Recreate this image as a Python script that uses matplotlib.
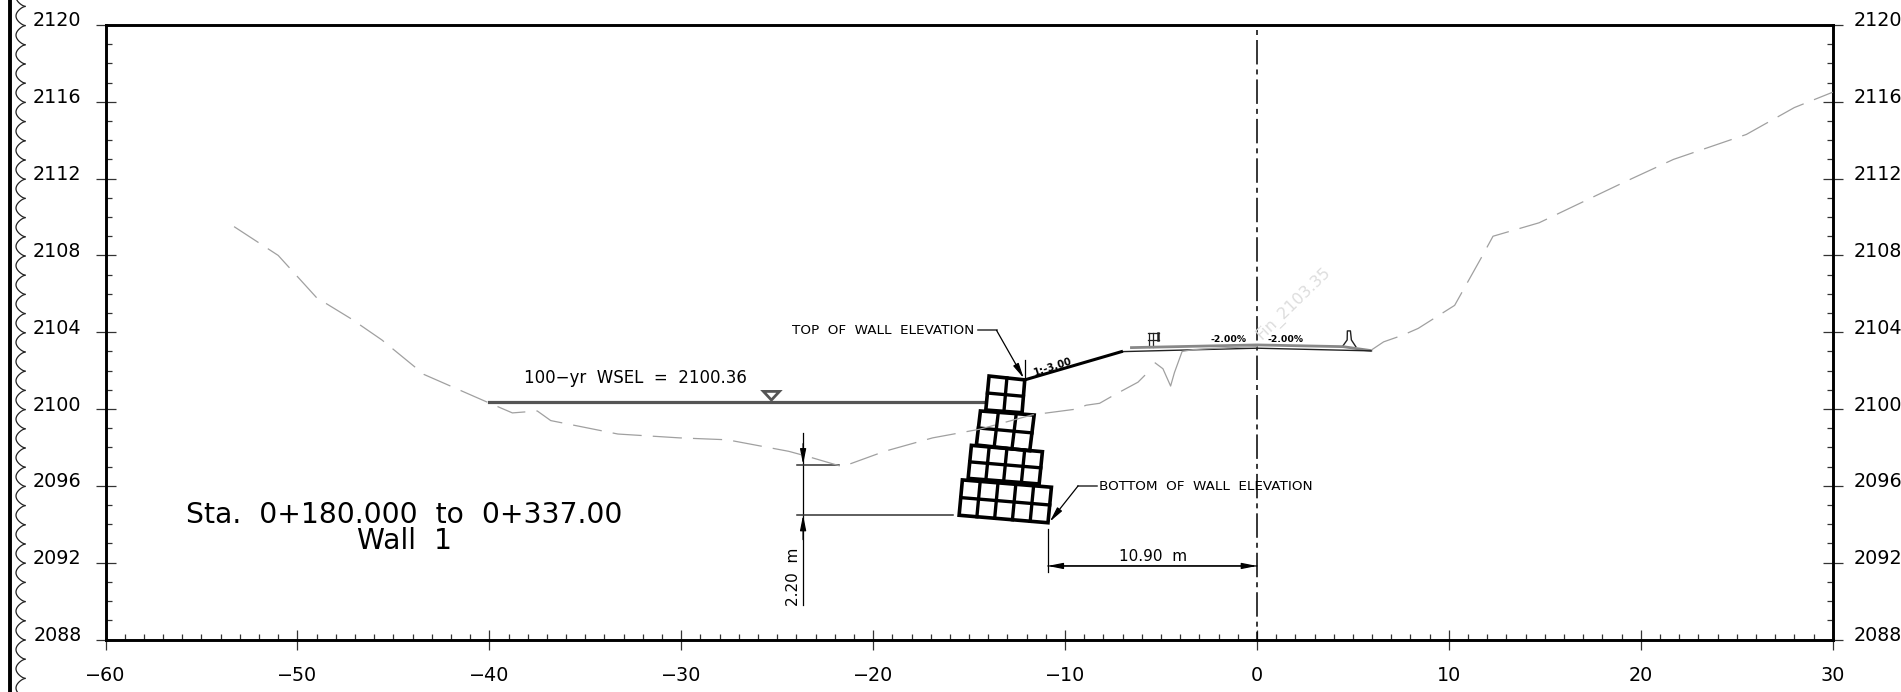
import numpy as np
import matplotlib
matplotlib.use("Agg")
import matplotlib.pyplot as plt
from matplotlib.ticker import MultipleLocator
from matplotlib.transforms import ScaledTranslation

plt.rcParams['font.family'] = ['DejaVu Sans']
plt.rcParams['lines.scale_dashes'] = False

# --------------------------
# Values read off the section
# --------------------------
terrain_x = [-53.3, -51, -49, -47.2, -45.6, -43.4, -40.2, -38.8, -37.5, -36.8, -33.3, -30.1, -27.6, -24.4,
             -23.3, -21.6, -19.4, -16.9, -14.45, -11.7, -9.4, -8.9, -8.2, -7.5, -6.2, -5.7]
terrain_y = [2109.5, 2108.0, 2105.8, 2104.7, 2103.6, 2101.8, 2100.4, 2099.8, 2099.9, 2099.4, 2098.7, 2098.5,
             2098.4, 2097.8, 2097.5, 2097.0, 2097.8, 2098.5, 2098.95, 2099.7, 2100.0, 2100.2, 2100.3, 2100.7,
             2101.4, 2101.9]
ditch_x = [-5.3, -4.9, -4.5, -4.3, -3.9, -3.3, -1.5, 0]
ditch_y = [2102.4, 2102.1, 2101.2, 2101.9, 2103.0, 2103.1, 2103.2, 2103.25]
terrain_right_x = [5.97, 6.6, 7.6, 8.4, 10.3, 11.7, 12.3, 14.7, 19.1, 21.7, 25.5, 28, 30]
terrain_right_y = [2103.08, 2103.5, 2103.85, 2104.2, 2105.4, 2107.9, 2109, 2109.7, 2111.8, 2113, 2114.3, 2115.7, 2116.5]

road_x = [-7.06, 0, 5.97]
road_y = [2102.99, 2103.17, 2103.03]
road_top_x = [-6.54, 0, 4.49, 5.9]
road_top_y = [2103.2, 2103.34, 2103.25, 2103.05]
slope_x = [-12.1, -7.06]
slope_y = [2101.52, 2102.99]

barrier_x = [4.45, 4.70, 4.71, 4.87, 4.92, 5.15]
barrier_y = [2103.25, 2103.6, 2104.07, 2104.07, 2103.6, 2103.25]

# wall tiers: corners TL, TR, BR, BL and number of columns
tier_cols = [2, 3, 4, 5]
tier_x = [[-13.96, -12.10, -12.24, -14.13],
          [-14.41, -11.61, -11.84, -14.62],
          [-14.88, -11.18, -11.35, -15.05],
          [-15.35, -10.71, -10.89, -15.52]]
tier_y = [[2101.72, 2101.52, 2099.81, 2099.95],
          [2099.90, 2099.69, 2097.83, 2098.13],
          [2098.11, 2097.78, 2096.10, 2096.39],
          [2096.31, 2095.93, 2094.08, 2094.47]]

wsel = 2100.36
x_ticks = [-60, -50, -40, -30, -20, -10, 0, 10, 20, 30]
y_ticks = [2088, 2092, 2096, 2100, 2104, 2108, 2112, 2116, 2120]

W, H = 1901, 692
fig = plt.figure(figsize=(W / 100, H / 100), dpi=100)
ax = fig.add_axes([105.5 / W, 1 - 639.5 / H, (1832.7 - 105.5) / W, (639.5 - 25) / H])
ax.set_xlim(-60, 30)
ax.set_ylim(2088, 2120)

# --------------------------
# Axes frame and ticks
# --------------------------
for side in ['left', 'right', 'top', 'bottom']:
    ax.spines[side].set_linewidth(2.1)
ax.set_xticks(x_ticks)
ax.set_yticks(y_ticks)
ax.xaxis.set_minor_locator(MultipleLocator(1))
ax.yaxis.set_minor_locator(MultipleLocator(1))
ax.tick_params(axis='both', which='major', direction='inout', length=13.7, width=0.9, color='#333333', labelsize=13.8)
ax.tick_params(axis='both', which='minor', direction='in', length=4, width=0.9, color='#333333')
ax.tick_params(axis='y', which='both', left=True, right=True, labelleft=True, labelright=True)
ax.tick_params(axis='y', which='major', pad=10.5)
ax.tick_params(axis='x', which='major', pad=12)
shift = ScaledTranslation(0, 6 / 100, fig.dpi_scale_trans)
left_shift = ScaledTranslation(0, 6 / 100, fig.dpi_scale_trans)
right_shift = ScaledTranslation(-3.5 / 100, 6 / 100, fig.dpi_scale_trans)
for tick in ax.yaxis.get_major_ticks():
    tick.label1.set_transform(tick.label1.get_transform() + left_shift)
    tick.label2.set_transform(tick.label2.get_transform() + right_shift)
ax.set_yticklabels([str(v) for v in y_ticks])

# --------------------------
# Ground and road
# --------------------------
ground = dict(color='#a0a0a0', lw=0.9, zorder=5)
ax.plot(terrain_x, terrain_y, dashes=(21, 8), **ground)
ax.plot(ditch_x, ditch_y, **ground)
ax.plot(terrain_right_x, terrain_right_y, dashes=(21, 8), **ground)
ax.plot(road_top_x, road_top_y, color='#888888', lw=2.0, zorder=3)
ax.plot(road_x, road_y, color='#222222', lw=1.0, zorder=4)
ax.plot(slope_x, slope_y, color='black', lw=2.2, zorder=4)
ax.plot(barrier_x, barrier_y, color='#222222', lw=1.0)

# guard rail
ax.plot([-5.64, -5.64], [2103.25, 2103.95], color='#222222', lw=0.9)
ax.plot([-5.41, -5.41], [2103.25, 2103.95], color='#222222', lw=0.9)
ax.plot([-5.7, -5.08], [2103.95, 2103.95], color='#222222', lw=0.9)
ax.plot([-5.7, -5.08], [2103.62, 2103.62], color='#222222', lw=0.9)
ax.plot([-5.15, -5.15], [2103.6, 2103.95], color='#222222', lw=1.8)

# --------------------------
# Wall blocks
# --------------------------
for cols, xs, ys in zip(tier_cols, tier_x, tier_y):
    tl, tr, br, bl = np.column_stack([xs, ys])
    ax.fill(xs, ys, fc='none', ec='black', lw=2.6, zorder=4)
    mid_l = (tl + bl) / 2
    mid_r = (tr + br) / 2
    ax.plot([mid_l[0], mid_r[0]], [mid_l[1], mid_r[1]], color='black', lw=2.4, zorder=4)
    for i in range(1, cols):
        top = tl + (tr - tl) * i / cols
        bot = bl + (br - bl) * i / cols
        ax.plot([top[0], bot[0]], [top[1], bot[1]], color='black', lw=2.4, zorder=4)

# --------------------------
# Water level
# --------------------------
ax.plot([-40.03, -14.15], [wsel, wsel], color='#555555', lw=2.3, zorder=3)
ax.fill([-25.72, -24.88, -25.3], [2100.92, 2100.92, 2100.47], fc='white', ec='#555555', lw=2.0, zorder=4)
ax.text(-32.37, 2101.6, "100\u2212yr  WSEL  =  2100.36", fontsize=12, ha='center', va='center')

# --------------------------
# Dimensions and leaders
# --------------------------
dim = dict(color='#333333', lw=1.1)
ax.plot([0, 0], [2120, 2088], color='black', lw=1.1, linestyle=(17.6, (17.6, 3.6, 3.6, 3.6)), zorder=2)
ax.plot([-23.65, -23.65], [2089.8, 2098.74], color='black', lw=0.9)
ax.plot([-23.98, -21.79], [2097.1, 2097.1], **dim)
ax.plot([-23.98, -15.83], [2094.48, 2094.48], **dim)
ax.plot([-10.9, -10.9], [2091.5, 2093.76], color='black', lw=0.9)
arrow = dict(arrowstyle='-|>,head_length=0.9,head_width=0.18', color='black', lw=0.9, shrinkA=0, shrinkB=0)
ax.annotate('', xy=(-23.65, 2097.12), xytext=(-23.65, 2098.2), arrowprops=arrow)
ax.annotate('', xy=(-23.65, 2094.48), xytext=(-23.65, 2093.2), arrowprops=arrow)
ax.annotate('', xy=(-10.9, 2091.83), xytext=(0, 2091.83), arrowprops=arrow)
ax.annotate('', xy=(0, 2091.83), xytext=(-10.9, 2091.83), arrowprops=arrow)
ax.text(-24.14, 2091.26, "2.20  m", fontsize=11, rotation=90, ha='center', va='center')
ax.text(-5.43, 2092.32, "10.90  m", fontsize=11, ha='center', va='center')

ax.plot([-14.53, -13.57], [2104.1, 2104.1], **dim)
ax.annotate('', xy=(-12.15, 2101.6), xytext=(-13.57, 2104.1), arrowprops=arrow)
ax.plot([-12.1, -12.1], [2101.52, 2102.56], color='black', lw=0.9)
ax.text(-19.5, 2104.1, "TOP  OF  WALL  ELEVATION", fontsize=9.7, ha='center', va='center')

ax.plot([-8.36, -9.32], [2096, 2096], **dim)
ax.annotate('', xy=(-10.8, 2094.13), xytext=(-9.32, 2096), arrowprops=arrow)
ax.text(-2.67, 2095.96, "BOTTOM  OF  WALL  ELEVATION", fontsize=9.7, ha='center', va='center')

# small labels
ax.text(-10.66, 2102.2, "1:-3.00", fontsize=7.2, fontweight='bold', rotation=18, ha='center', va='center')
ax.text(-1.5, 2103.6, "-2.00%", fontsize=6.7, fontweight='bold', ha='center', va='center')
ax.text(1.5, 2103.6, "-2.00%", fontsize=6.7, fontweight='bold', ha='center', va='center')
ax.text(1.9, 2105.5, "Fin_2103.35", fontsize=11.5, color='#dddddd', rotation=44, ha='center', va='center')

ax.text(-44.46, 2094.47, "Sta.  0+180.000  to  0+337.00", fontsize=20.3, ha='center', va='center')
ax.text(-44.4, 2093.12, "Wall  1", fontsize=20.3, ha='center', va='center')

# --------------------------
# Drawing border with scalloped edge on the left
# --------------------------
over = fig.add_axes([0, 0, 1, 1], facecolor='none')
over.set_xlim(0, W)
over.set_ylim(H, 0)
over.axis('off')
over.plot([10.3, 10.3], [0, H], color='black', lw=2.8)
t = np.linspace(0, 1, 25)
for k in range(-2, 36):
    y0 = 25.6 + 19.2 * k
    over.plot(25 - 9 * np.sin(np.pi * t) ** 0.7, y0 + 19.2 * t, color='#222222', lw=0.9)

fig.savefig("out.png", dpi=100)
